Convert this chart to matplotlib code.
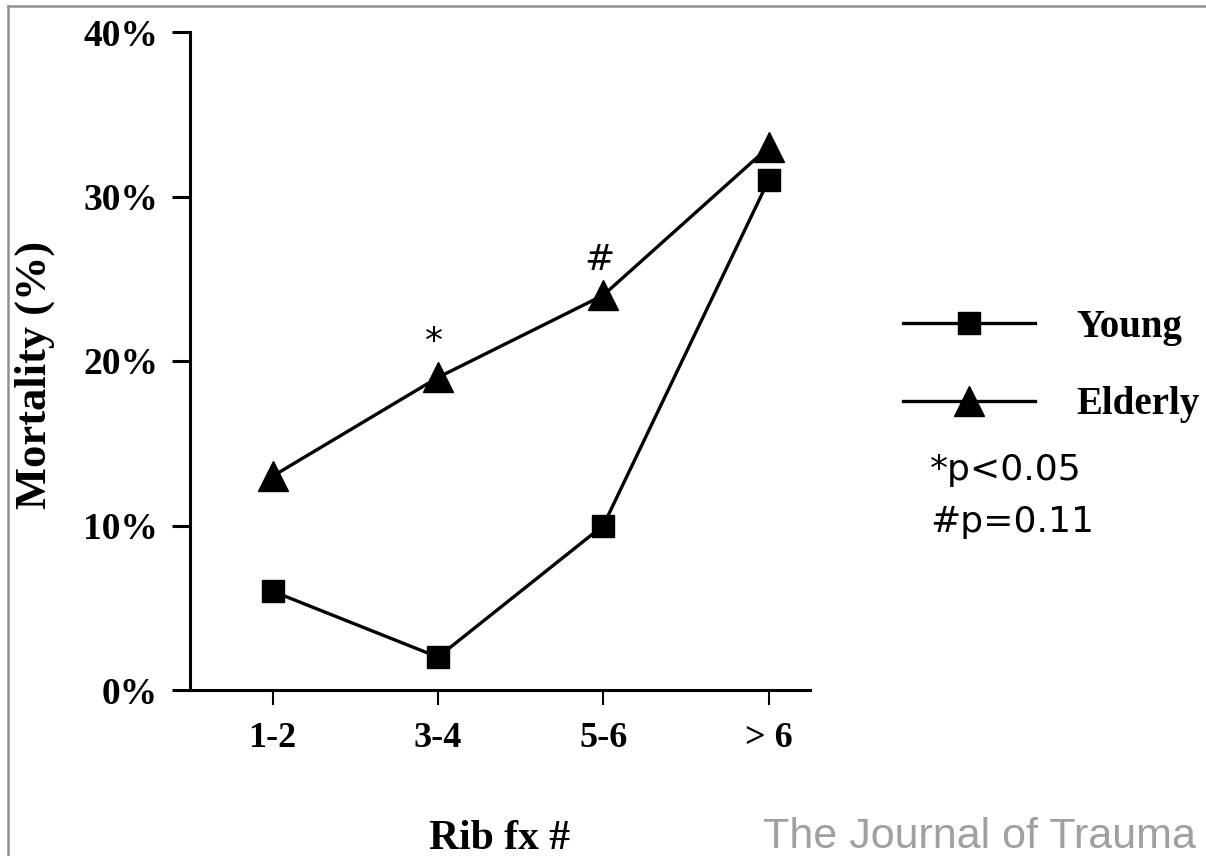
import matplotlib
matplotlib.use('Agg')
import matplotlib.pyplot as plt
from matplotlib.lines import Line2D

groups = ['1-2', '3-4', '5-6', '> 6']
young = [6, 2, 10, 31]
elderly = [13, 19, 24, 33]
notes = {1: '*', 2: '#'}   # index in groups -> marker above the Elderly point
pvals = ['*p<0.05', '#p=0.11']

serif = ['Liberation Serif', 'DejaVu Serif']

fig = plt.figure(figsize=(12.06, 8.56), dpi=100)
ax = fig.add_axes([190 / 1206, 1 - 690 / 856, 620 / 1206, 658 / 856])

x = list(range(len(groups)))
ln_y, = ax.plot(x, young, color='black', lw=2.4, marker='s', ms=16,
                label='Young', clip_on=False)
ln_e, = ax.plot(x, elderly, color='black', lw=2.4, marker='^', ms=22,
                label='Elderly', clip_on=False)

for i, s in notes.items():
    ax.annotate(s, (x[i], elderly[i]), xytext=(-3, 13), textcoords='offset points',
                ha='center', va='bottom', fontsize=26, family='DejaVu Sans')

ax.set_xlim(-0.5, 3.25)
ax.set_ylim(0, 40)
ax.set_yticks([0, 10, 20, 30, 40])
ax.set_yticklabels([f'{v}%' for v in [0, 10, 20, 30, 40]])
ax.set_xticks(x)
ax.set_xticklabels(groups)

for lab in ax.get_yticklabels():
    lab.set_family(serif)
    lab.set_fontweight('bold')
    lab.set_fontsize(27)
for lab in ax.get_xticklabels():
    lab.set_family(serif)
    lab.set_fontweight('bold')
    lab.set_fontsize(26)

ax.spines['top'].set_visible(False)
ax.spines['right'].set_visible(False)
ax.spines['left'].set_linewidth(2.2)
ax.spines['bottom'].set_linewidth(2.2)
ax.tick_params(axis='y', length=13, width=2.2, pad=10)
ax.tick_params(axis='x', length=11, width=1.5, pad=12)

ax.set_ylabel('Mortality (%)', family=serif, fontweight='bold', fontsize=32)
ax.yaxis.set_label_coords(-0.218, 0.479)
ax.set_xlabel('Rib fx #', family=serif, fontweight='bold', fontsize=30,
              labelpad=47)

leg = fig.legend(handles=[ln_y, ln_e], loc='center left',
                 bbox_to_anchor=(903 / 1206, 1 - 366 / 856), frameon=False,
                 prop={'family': serif, 'weight': 'bold', 'size': 28},
                 borderpad=0, borderaxespad=0,
                 handlelength=3.4, handletextpad=1.05, labelspacing=1.05)

fig.text(930 / 1206, 1 - 470 / 856, pvals[0], fontsize=26, family='DejaVu Sans',
         va='center', ha='left')
fig.text(930 / 1206, 1 - 522 / 856, pvals[1], fontsize=26, family='DejaVu Sans',
         va='center', ha='left')

fig.text(1196 / 1206, 1 - 837 / 856, 'The Journal of Trauma', color='#a0a0a0',
         fontsize=31, family='Liberation Sans', ha='right', va='center')

# scanned page frame (top and left edges only)
fig.add_artist(Line2D([8 / 1206, 1], [1 - 6 / 856, 1 - 6 / 856],
                      transform=fig.transFigure, color='#909090', lw=1.8))
fig.add_artist(Line2D([8 / 1206, 8 / 1206], [0, 1 - 6 / 856],
                      transform=fig.transFigure, color='#909090', lw=1.8))

fig.savefig('out.png', dpi=100, facecolor='white')
